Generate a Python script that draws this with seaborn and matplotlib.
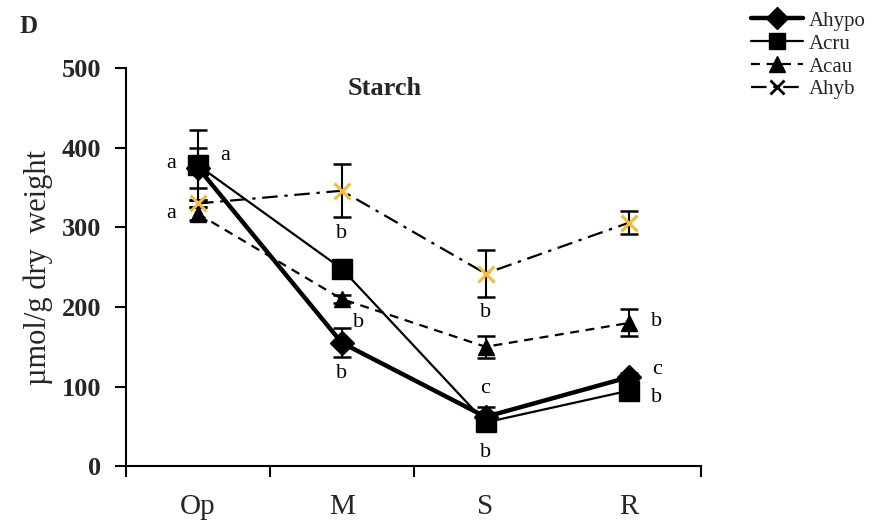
import numpy as np
import pandas as pd
import matplotlib
matplotlib.use("Agg")
import matplotlib.pyplot as plt
from matplotlib.lines import Line2D
import seaborn as sns

# ---- data -------------------------------------------------------------
stages = ["Op", "M", "S", "R"]
species = ["Ahypo", "Acru", "Acau", "Ahyb"]

ahypo = [375, 155, 62, 112]
acru = [378, 248, 55, 95]
acau = [317, 210, 150, 180]
ahyb = [330, 346, 242, 306]

ahypo_err = [25, 18, 13, 5]
acru_err = [44, 5, 5, 5]
acau_err = [8, 5, 14, 17]
ahyb_err = [4, 33, 30, 14]

# significance letters
letters_stage = ["Op", "Op", "Op", "M", "M", "M", "S", "S", "S", "R", "R", "R"]
letters_text = ["a", "a", "a", "b", "b", "b", "b", "c", "b", "b", "c", "b"]

sns.set_theme(style="white")
plt.rcParams["font.family"] = ["Liberation Serif", "DejaVu Serif"]

fig = plt.figure(figsize=(8.82, 5.28), dpi=100)
ax = fig.add_axes([0.143, 0.117, 0.652, 0.754])

x = np.arange(len(stages))
styles = {
    "Ahypo": dict(values=ahypo, err=ahypo_err, marker="D", ms=12, lw=3.2,
                  dashes=None, mcolor="black"),
    "Acru": dict(values=acru, err=acru_err, marker="s", ms=14, lw=1.6,
                 dashes=None, mcolor="black"),
    "Acau": dict(values=acau, err=acau_err, marker="^", ms=12, lw=1.6,
                 dashes=(4, 3), mcolor="black"),
    "Ahyb": dict(values=ahyb, err=ahyb_err, marker="x", ms=11, lw=1.6,
                 dashes=(7, 3, 1.5, 3), mcolor="#F2BE36"),
}

for name in ["Ahyb", "Acau", "Acru", "Ahypo"]:
    st = styles[name]
    ax.errorbar(x, st["values"], yerr=st["err"], fmt="none", ecolor="black",
                elinewidth=1.5, capsize=6.5, capthick=1.8, zorder=2)
    df = pd.DataFrame({"stage": x, "value": st["values"]})
    sns.lineplot(data=df, x="stage", y="value", ax=ax, color="black",
                 linewidth=st["lw"], zorder=3)
    ln = ax.lines[-1]
    if st["dashes"] is not None:
        ln.set_dashes(st["dashes"])
    ax.plot(x, st["values"], linestyle="none", marker=st["marker"],
            markersize=st["ms"], color=st["mcolor"],
            markeredgewidth=2.2 if st["marker"] == "x" else 1,
            zorder=4)

# letter placement: (offset from stage, height)
letter_pos = [(-0.19, 380), (0.19, 390), (-0.19, 317),
              (0.0, 292), (0.12, 180), (0.0, 116),
              (0.0, 193), (0.0, 98), (0.0, 17),
              (0.19, 182), (0.19, 121), (0.19, 86)]
for stg, txt, (dx, yv) in zip(letters_stage, letters_text, letter_pos):
    ax.text(stages.index(stg) + dx, yv, txt, ha="center", va="center",
            fontsize=16, color="black")

ax.set_xlim(-0.5, 3.5)
ax.set_ylim(0, 500)
ax.set_yticks([0, 100, 200, 300, 400, 500])
ax.set_yticklabels(["0", "100", "200", "300", "400", "500"],
                   fontweight="bold", fontsize=19)
ax.set_xticks([-0.5, 0.5, 1.5, 3.5])
ax.set_xticklabels([])
ax.set_xticks(x, minor=True)
ax.set_xticklabels(stages, minor=True, fontsize=21)
ax.tick_params(axis="x", which="minor", length=0, pad=20)
ax.tick_params(axis="x", which="major", direction="out", length=8, width=1.5,
               bottom=True, color="black")
ax.tick_params(axis="y", direction="out", length=8, width=1.5, left=True,
               color="black", pad=10)
for side in ["top", "right"]:
    ax.spines[side].set_visible(False)
for side in ["left", "bottom"]:
    ax.spines[side].set_color("black")
    ax.spines[side].set_linewidth(1.5)
ax.set_xlabel("")
ax.set_ylabel("\u00b5mol/g dry  weight", fontsize=22, labelpad=6)
ax.text(0.45, 0.95, "Starch", transform=ax.transAxes, ha="center",
        va="center", fontweight="bold", fontsize=19)
fig.text(0.022, 0.95, "D", fontweight="bold", fontsize=18, ha="left",
         va="center")

handles = [
    Line2D([], [], color="black", lw=3.2, marker="D", markersize=11),
    Line2D([], [], color="black", lw=1.6, marker="s", markersize=11),
    Line2D([], [], color="black", lw=1.6, marker="^", markersize=11,
           dashes=(4, 3)),
    Line2D([], [], color="black", lw=1.6, marker="x", markersize=10,
           markeredgewidth=2, dashes=(7, 3, 1.5, 3)),
]
fig.legend(handles, species, loc="upper left", bbox_to_anchor=(0.851, 0.979),
           frameon=False, fontsize=15, handlelength=2.5, handletextpad=0.3,
           labelspacing=0.16, borderaxespad=0.0, borderpad=0.0)

fig.savefig("out.png", dpi=100)
